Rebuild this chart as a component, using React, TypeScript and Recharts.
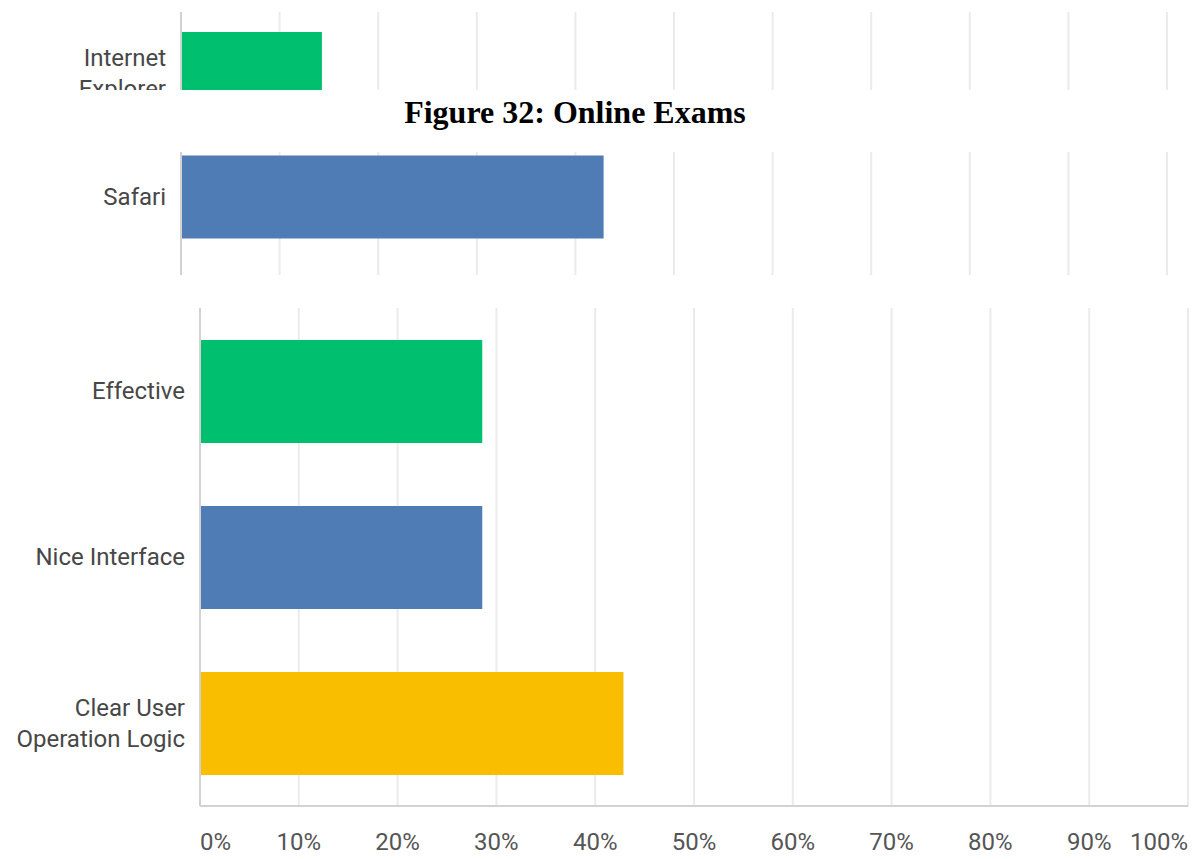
import { BarChart, Bar, XAxis, YAxis, CartesianGrid, Cell } from 'recharts';

// survey answers, share of respondents (%)
const browserCategories = ['Internet\nExplorer', 'Safari'];
const browserValues = [14.29, 42.86];

const reasonCategories = ['Effective', 'Nice Interface', 'Clear User\nOperation Logic'];
const reasonValues = [28.57, 28.57, 42.86];

const percentTicks = [0, 10, 20, 30, 40, 50, 60, 70, 80, 90, 100];

const caption = 'Figure 32: Online Exams';

const COLORS = {
  green: '#00BF6F',
  blue: '#507CB6',
  yellow: '#F9BE00',
  grid: '#ebebeb',
  axis: '#d2d2d2',
  label: '#474747',
  tick: '#555555',
};

const browserColors = [COLORS.green, COLORS.blue];
const reasonColors = [COLORS.green, COLORS.blue, COLORS.yellow];

const FONT = 'Roboto, sans-serif';

const browserData = browserCategories.map((name, i) => ({ name, value: browserValues[i] }));
const reasonData = reasonCategories.map((name, i) => ({ name, value: reasonValues[i] }));

function CategoryTick(props: any) {
  const { x, y, payload } = props;
  const lines = String(payload.value).split('\n');
  const lh = 31;
  const start = y - ((lines.length - 1) * lh) / 2;
  return (
    <text textAnchor="end" fontFamily={FONT} fontSize={24} fill={COLORS.label}>
      {lines.map((l, i) => (
        <tspan key={i} x={x} y={start + i * lh} dominantBaseline="central">
          {l}
        </tspan>
      ))}
    </text>
  );
}

function PercentTick(props: any) {
  const { x, y, payload, index } = props;
  const last = percentTicks.length - 1;
  const anchor = index === 0 ? 'start' : index === last ? 'end' : 'middle';
  return (
    <text x={x} y={y} dy="0.71em" textAnchor={anchor} fontFamily={FONT} fontSize={24} fill={COLORS.tick}>
      {`${payload.value}%`}
    </text>
  );
}

export default function App() {
  return (
    <div style={{ position: 'absolute', left: 0, top: 0, width: 1204, height: 859, background: '#fff', overflow: 'hidden' }}>
      {/* cropped browser chart */}
      <div style={{ position: 'absolute', left: 0, top: 0 }}>
        <BarChart
          width={1204}
          height={275}
          data={browserData}
          layout="vertical"
          margin={{ top: 12, right: 37, left: 0, bottom: 0 }}
        >
          <CartesianGrid horizontal={false} stroke={COLORS.grid} strokeWidth={2} />
          <XAxis type="number" domain={[0, 100]} ticks={percentTicks} hide />
          <YAxis
            type="category"
            dataKey="name"
            width={181}
            padding={{ top: 0, bottom: 16 }}
            tick={<CategoryTick />}
            tickSize={0}
            tickMargin={15}
            axisLine={{ stroke: COLORS.axis, strokeWidth: 2 }}
            tickLine={false}
          />
          <Bar dataKey="value" barSize={83} isAnimationActive={false}>
            {browserData.map((d, i) => (
              <Cell key={d.name} fill={browserColors[i]} />
            ))}
          </Bar>
        </BarChart>
      </div>

      {/* caption band laid over the top chart */}
      <div
        style={{
          position: 'absolute',
          left: 0,
          top: 90,
          width: 1204,
          height: 62,
          background: '#fff',
        }}
      >
        <div
          style={{
            position: 'absolute',
            left: 0,
            width: 1150,
            top: 4,
            textAlign: 'center',
            fontFamily: '"Liberation Serif", "Times New Roman", serif',
            fontWeight: 'bold',
            fontSize: 32,
            lineHeight: '36px',
            color: '#000',
          }}
        >
          {caption}
        </div>
      </div>

      {/* reasons chart */}
      <div style={{ position: 'absolute', left: 0, top: 300 }}>
        <BarChart
          width={1204}
          height={559}
          data={reasonData}
          layout="vertical"
          margin={{ top: 8, right: 16, left: 0, bottom: 0 }}
        >
          <CartesianGrid horizontal={false} stroke={COLORS.grid} strokeWidth={2} />
          <XAxis
            type="number"
            domain={[0, 100]}
            ticks={percentTicks}
            height={53}
            tick={<PercentTick />}
            tickSize={0}
            tickMargin={27}
            axisLine={{ stroke: COLORS.axis, strokeWidth: 2 }}
            tickLine={false}
          />
          <YAxis
            type="category"
            dataKey="name"
            width={200}
            tick={<CategoryTick />}
            tickSize={0}
            tickMargin={15}
            axisLine={{ stroke: COLORS.axis, strokeWidth: 2 }}
            tickLine={false}
          />
          <Bar dataKey="value" barSize={103} isAnimationActive={false}>
            {reasonData.map((d, i) => (
              <Cell key={d.name} fill={reasonColors[i]} />
            ))}
          </Bar>
        </BarChart>
      </div>
    </div>
  );
}
